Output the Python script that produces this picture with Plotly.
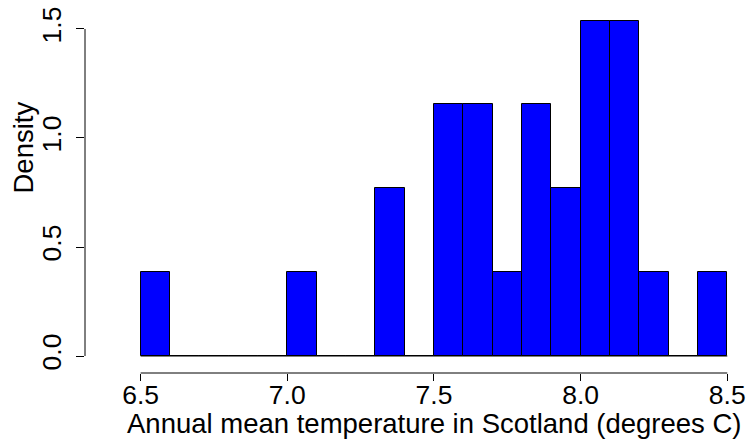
import plotly.graph_objects as go

# Histogram data: bin breaks and counts, n = 26
breaks = [6.5, 6.6, 6.7, 6.8, 6.9, 7.0, 7.1, 7.2, 7.3, 7.4, 7.5,
          7.6, 7.7, 7.8, 7.9, 8.0, 8.1, 8.2, 8.3, 8.4, 8.5]
counts = [1, 0, 0, 0, 0, 1, 0, 0, 2, 0, 3, 3, 1, 3, 2, 4, 4, 1, 0, 1]
x_ticks = [6.5, 7.0, 7.5, 8.0, 8.5]
x_tick_labels = ["6.5", "7.0", "7.5", "8.0", "8.5"]
y_ticks = [0.0, 0.5, 1.0, 1.5]
y_tick_labels = ["0.0", "0.5", "1.0", "1.5"]
x_title = "Annual mean temperature in Scotland (degrees C)"
y_title = "Density"

n = sum(counts)
widths = [breaks[i + 1] - breaks[i] for i in range(len(counts))]
centers = [(breaks[i] + breaks[i + 1]) / 2 for i in range(len(counts))]
density = [c / (n * w) for c, w in zip(counts, widths)]

W, H = 748, 440
ml, mr, mt, mb = 85, 0, 0, 67
plot_w = W - ml - mr
plot_h = H - mt - mb

fig = go.Figure()
fig.add_trace(go.Bar(
    x=centers, y=density, width=widths,
    marker=dict(color="#0000FF", line=dict(color="black", width=1)),
    hoverinfo="skip",
))

font = "Liberation Sans, Arial, Helvetica, sans-serif"

# R-style detached axis lines spanning the tick range
fig.add_shape(type="line", xref="x", yref="paper", x0=x_ticks[0], x1=x_ticks[-1],
              y0=0, y1=0, line=dict(color="black", width=1))
fig.add_shape(type="line", xref="paper", yref="y", x0=0, x1=0,
              y0=y_ticks[0], y1=y_ticks[-1], line=dict(color="black", width=1))
# baseline of the histogram (empty bins drawn as zero-height rectangles)
fig.add_shape(type="line", xref="x", yref="y", x0=breaks[0], x1=breaks[-1],
              y0=0, y1=0, line=dict(color="black", width=1))

fig.update_layout(
    width=W, height=H,
    margin=dict(l=ml, r=mr, t=mt, b=mb, pad=0),
    paper_bgcolor="white", plot_bgcolor="white",
    showlegend=False,
    bargap=0,
    font=dict(family=font, color="black"),
    xaxis=dict(
        range=[6.3104, 8.5706], showgrid=False, zeroline=False, showline=False,
        tickmode="array", tickvals=x_ticks, ticktext=x_tick_labels,
        ticks="outside", ticklen=7, tickwidth=1, tickcolor="black",
        tickfont=dict(size=26.5, family=font, color="black"),
        ticklabelstandoff=-9,
    ),
    yaxis=dict(
        range=[-0.078, 1.633], showgrid=False, zeroline=False, showline=False,
        tickmode="array", tickvals=y_ticks, ticktext=y_tick_labels,
        ticks="outside", ticklen=8, tickwidth=1, tickcolor="black",
        tickangle=-90,
        tickfont=dict(size=26.5, family=font, color="black"),
        ticklabelstandoff=4,
    ),
    annotations=[
        dict(text=x_title, xref="paper", yref="paper",
             x=(434.5 - ml) / plot_w, y=-(423.5 - plot_h) / plot_h,
             xanchor="center", yanchor="middle", showarrow=False,
             font=dict(size=27.5, family=font, color="black")),
        dict(text=y_title, xref="paper", yref="paper",
             x=(22.5 - ml) / plot_w, y=1 - 148 / plot_h, textangle=-90,
             xanchor="center", yanchor="middle", showarrow=False,
             font=dict(size=27.5, family=font, color="black")),
    ],
)

fig.write_html("out.html")
